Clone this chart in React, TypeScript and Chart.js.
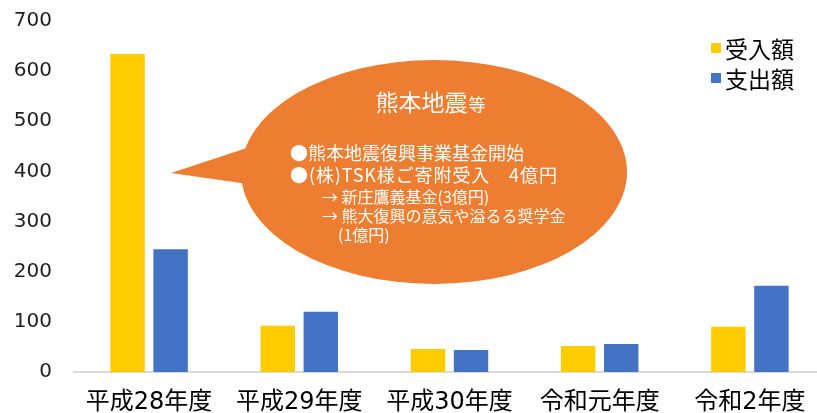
import React, { useEffect, useRef } from "react";
import { Chart, registerables } from "chart.js";

Chart.register(...registerables);

const categories = ["平成28年度", "平成29年度", "平成30年度", "令和元年度", "令和2年度"];
const seriesNames = ["受入額", "支出額"];
const receivedValues = [634, 92, 46, 52, 90];
const spentValues = [245, 120, 44, 56, 172];
const yMin = 0;
const yMax = 700;
const yStep = 100;

const calloutTitle = "熊本地震";
const calloutTitleSuffix = "等";
const calloutBullets = ["●熊本地震復興事業基金開始", "●(株)TSK様ご寄附受入　4億円"];
const calloutSubLines = ["→ 新庄鷹義基金(3億円)", "→ 熊大復興の意気や溢るる奨学金", "　(1億円)"];

const COLORS = {
  received: "#FFCC00",
  spent: "#4472C4",
  callout: "#ED7D31",
  axis: "#D9D9D9",
  text: "#1F1F1F",
};

const CJK = '"Noto Sans CJK JP", "Noto Sans", sans-serif';
const LABEL_FONT = '"DejaVu Sans", "Noto Sans CJK JP", sans-serif';

const calloutPlugin = {
  id: "callout",
  afterDraw(chart: any) {
    const ctx = chart.ctx as CanvasRenderingContext2D;
    ctx.save();
    const cx = 434, cy = 172, rx = 193, ry = 112;
    ctx.fillStyle = COLORS.callout;
    ctx.beginPath();
    ctx.ellipse(cx, cy, rx, ry, 0, 0, Math.PI * 2);
    ctx.fill();
    ctx.beginPath();
    ctx.moveTo(171, 173);
    ctx.lineTo(262, 143);
    ctx.lineTo(262, 186);
    ctx.closePath();
    ctx.fill();

    ctx.fillStyle = "#FFFFFF";
    ctx.textBaseline = "alphabetic";
    ctx.textAlign = "left";
    const tFont = `23px ${CJK}`;
    const sFont = `17px ${CJK}`;
    ctx.font = tFont;
    const w1 = ctx.measureText(calloutTitle).width;
    ctx.font = sFont;
    const w2 = ctx.measureText(calloutTitleSuffix).width;
    const startX = 430 - (w1 + w2) / 2;
    ctx.font = tFont;
    ctx.fillText(calloutTitle, startX, 111);
    ctx.font = sFont;
    ctx.fillText(calloutTitleSuffix, startX + w1 + 1, 111);

    ctx.textBaseline = "middle";
    ctx.font = `18px ${CJK}`;
    calloutBullets.forEach((t, i) => {
      (ctx as any).letterSpacing = i === 1 ? "0.9px" : "0px";
      ctx.fillText(t, 290, 153 + i * 22);
    });
    (ctx as any).letterSpacing = "0px";
    ctx.font = `16px ${CJK}`;
    calloutSubLines.forEach((t, i) => ctx.fillText(t, 322, 197 + i * 19));
    ctx.restore();
  },
};

const legendPlugin = {
  id: "customLegend",
  afterDraw(chart: any) {
    const ctx = chart.ctx as CanvasRenderingContext2D;
    ctx.save();
    ctx.textBaseline = "middle";
    ctx.textAlign = "left";
    ctx.font = `23px ${CJK}`;
    chart.data.datasets.forEach((ds: any, i: number) => {
      const y = 48 + i * 30;
      ctx.fillStyle = ds.backgroundColor;
      ctx.fillRect(711, y - 5, 10, 10);
      ctx.fillStyle = "#000000";
      ctx.fillText(ds.label, 725, y + 1);
    });
    ctx.restore();
  },
};

export default function App() {
  const canvasRef = useRef<HTMLCanvasElement | null>(null);

  useEffect(() => {
    document.body.style.margin = "0";
    document.body.style.overflow = "hidden";
    const canvas = canvasRef.current;
    if (!canvas) return;
    const chart = new Chart(canvas, {
      type: "bar",
      data: {
        labels: categories,
        datasets: [
          {
            label: seriesNames[0],
            data: receivedValues,
            backgroundColor: COLORS.received,
            categoryPercentage: 0.573,
            barPercentage: 0.8,
          },
          {
            label: seriesNames[1],
            data: spentValues,
            backgroundColor: COLORS.spent,
            categoryPercentage: 0.573,
            barPercentage: 0.8,
          },
        ],
      },
      options: {
        responsive: false,
        animation: false,
        devicePixelRatio: 1,
        layout: { padding: { top: 21, right: 5, bottom: 0, left: 0 } },
        plugins: {
          legend: { display: false },
          tooltip: { enabled: false },
        },
        scales: {
          x: {
            grid: { display: false, drawTicks: false },
            border: { display: true, color: COLORS.axis, width: 2 },
            ticks: {
              color: "#000000",
              font: { family: LABEL_FONT, size: 24 },
              padding: 16,
              maxRotation: 0,
              autoSkip: false,
            },
            afterFit(scale: any) {
              scale.height = 41;
            },
          },
          y: {
            min: yMin,
            max: yMax,
            grid: { display: false, drawTicks: false },
            border: { display: false },
            ticks: {
              stepSize: yStep,
              color: COLORS.text,
              font: { family: '"DejaVu Sans", sans-serif', size: 20 },
              padding: 22,
            },
            afterFit(scale: any) {
              scale.width = 74;
              scale.paddingTop = 0;
              scale.paddingBottom = 0;
            },
          },
        },
      },
      plugins: [calloutPlugin, legendPlugin],
    });
    return () => chart.destroy();
  }, []);

  return (
    <div style={{ position: "fixed", left: 0, top: 0, width: 817, height: 413, overflow: "hidden", background: "#fff" }}>
      <canvas ref={canvasRef} width={830} height={413} style={{ display: "block" }} />
    </div>
  );
}
